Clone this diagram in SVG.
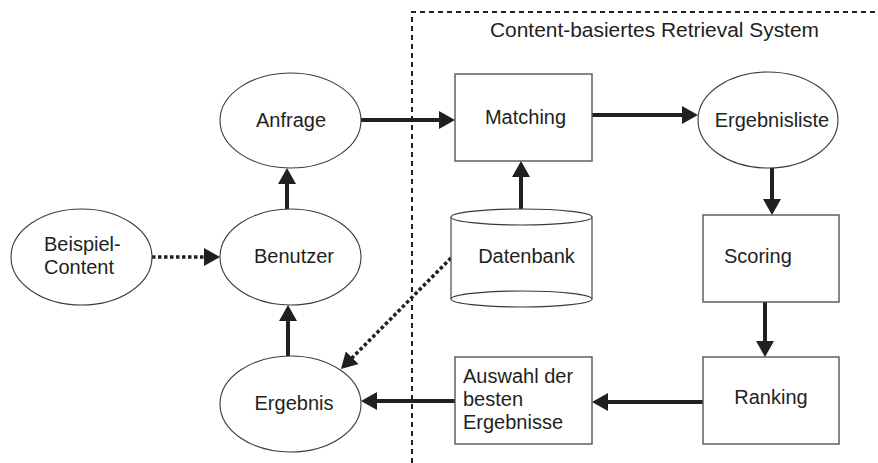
<svg xmlns="http://www.w3.org/2000/svg" width="878" height="463" viewBox="0 0 878 463">
  <style>
    .shape { fill: #ffffff; stroke: #3a3a3a; stroke-width: 1.1; }
    .box { fill: #ffffff; stroke: #555555; stroke-width: 1.4; }
    .lbl { font-family: "Liberation Sans", Arial, sans-serif; font-size: 20px; fill: #231f20; }
    .mid { text-anchor: middle; }
    .flow { fill: none; stroke: #231f20; stroke-width: 4; marker-end: url(#head); }
    .hint { fill: none; stroke: #231f20; stroke-width: 3.5; stroke-dasharray: 3.5 2.5; marker-end: url(#head); }
    .frame { fill: none; stroke: #231f20; stroke-width: 2; stroke-dasharray: 5 4; }
  </style>
  <defs>
    <marker id="head" viewBox="0 0 16 18" refX="6" refY="9" markerWidth="16" markerHeight="18" markerUnits="userSpaceOnUse" orient="auto">
      <path d="M0,0 L16,9 L0,18 z" fill="#231f20"/>
    </marker>
  </defs>

  <rect width="878" height="463" fill="#ffffff"/>

  <!-- system boundary -->
  <g id="system-boundary">
    <path class="frame" d="M412,463 V12 H878"/>
    <text class="lbl" x="490" y="37" textLength="329" lengthAdjust="spacingAndGlyphs">Content-basiertes Retrieval System</text>
  </g>

  <!-- connectors -->
  <g id="connectors">
    <path class="hint" d="M152,257 H210"/>
    <path class="flow" d="M287,209 V178"/>
    <path class="flow" d="M288,356 V315"/>
    <path class="flow" d="M361,120 H445"/>
    <path class="flow" d="M521,209 V171"/>
    <path class="flow" d="M592,115 H688"/>
    <path class="flow" d="M772,168 V205"/>
    <path class="flow" d="M765,302 V347"/>
    <path class="flow" d="M703,402 H602"/>
    <path class="flow" d="M455,401 H371"/>
    <path class="hint" d="M451,258 L348,362"/>
  </g>

  <g id="beispiel-content">
    <ellipse class="shape" cx="81.5" cy="257" rx="70.5" ry="48"/>
    <text class="lbl" x="44" y="251">Beispiel-</text>
    <text class="lbl" x="44" y="274">Content</text>
  </g>

  <g id="benutzer">
    <ellipse class="shape" cx="290.5" cy="257" rx="70.5" ry="48"/>
    <text class="lbl mid" x="294" y="263">Benutzer</text>
  </g>

  <g id="anfrage">
    <ellipse class="shape" cx="290.5" cy="120.5" rx="70.5" ry="47.5"/>
    <text class="lbl mid" x="291" y="127">Anfrage</text>
  </g>

  <g id="ergebnis">
    <ellipse class="shape" cx="290.5" cy="404" rx="70.5" ry="48"/>
    <text class="lbl mid" x="294" y="410">Ergebnis</text>
  </g>

  <g id="matching">
    <rect class="box" x="455" y="74" width="137" height="87"/>
    <text class="lbl mid" x="525.5" y="124">Matching</text>
  </g>

  <g id="ergebnisliste">
    <ellipse class="shape" cx="768" cy="120" rx="70" ry="48"/>
    <text class="lbl mid" x="772" y="127">Ergebnisliste</text>
  </g>

  <g id="datenbank">
    <path class="shape" d="M451,217 V299 A70.5,8 0 0 0 592,299 V217"/>
    <ellipse class="shape" cx="521.5" cy="217" rx="70.5" ry="8"/>
    <path class="shape" d="M451,299 A70.5,8 0 0 1 592,299" fill="none"/>
    <text class="lbl mid" x="526.5" y="263">Datenbank</text>
  </g>

  <g id="scoring">
    <rect class="box" x="703" y="215" width="136" height="87"/>
    <text class="lbl" x="724" y="263">Scoring</text>
  </g>

  <g id="ranking">
    <rect class="box" x="703" y="357" width="136" height="87"/>
    <text class="lbl mid" x="771" y="404">Ranking</text>
  </g>

  <g id="auswahl">
    <rect class="box" x="455" y="357" width="137" height="87"/>
    <text class="lbl" x="463" y="383">Auswahl der</text>
    <text class="lbl" x="463" y="406">besten</text>
    <text class="lbl" x="463" y="429">Ergebnisse</text>
  </g>
</svg>
